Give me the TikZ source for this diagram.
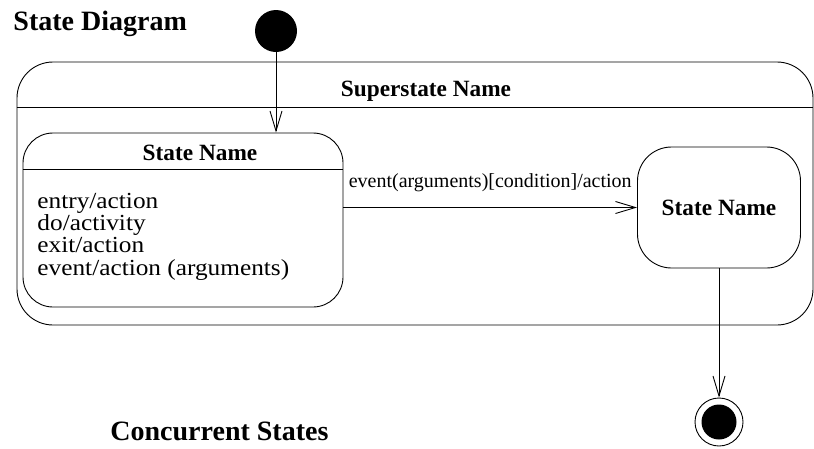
\documentclass[tikz,border=0pt]{standalone}
\usepackage{fontspec}
\setmainfont{Liberation Serif}
\newfontfamily\bodyfont[FakeStretch=1.1]{Liberation Serif}
\usetikzlibrary{arrows.meta}
\begin{document}
\begin{tikzpicture}[x={(1pt,0)}, y={(0,-1pt)},
  line width=0.9pt,
  flow/.style={-{Straight Barb[length=20pt,width=12pt,line width=0.9pt]}},
  statebox/.style={draw, rectangle, inner sep=0pt},
  heading/.style={font=\fontsize{28}{31}\selectfont\bfseries, inner sep=0pt},
  stname/.style={font=\fontsize{23.3}{26}\selectfont\bfseries, inner sep=0pt},
  body/.style={font=\bodyfont\fontsize{23}{22}\selectfont, inner sep=0pt, anchor=base west,
    text height=15pt, text depth=5pt},
  trlabel/.style={font=\fontsize{20}{22}\selectfont, inner sep=0pt},
]
\useasboundingbox (0,0) rectangle (814,448);
\clip (0,0) rectangle (814,448);

% titles
\node[heading, anchor=base west] (title) at (13,30) {State Diagram};
\node[heading, anchor=base west, text depth=0pt] (conc) at (110,440) {Concurrent States};

% superstate with its name compartment
\node[statebox, rounded corners=36pt, minimum width=796pt, minimum height=263pt]
  (super) at (415,193.5) {};
\draw ([yshift=-46pt]super.north west) -- ([yshift=-46pt]super.north east);
\node[stname, anchor=base] (supername) at (426,96) {Superstate Name};

% left state with internal activities
\node[statebox, rounded corners=30pt, minimum width=320pt, minimum height=174pt]
  (s1) at (183,220) {};
\draw ([yshift=-37pt]s1.north west) -- ([yshift=-37pt]s1.north east);
\node[stname, anchor=base] (s1name) at (200,160) {State Name};
\node[body] (entry) at (37,208) {entry/action};
\node[body] (do) at (37,230) {do/activity};
\node[body] (exit) at (37,252) {exit/action};
\node[body] (ev) at (37,275) {event/action (arguments)};

% right state
\node[statebox, rounded corners=34pt, minimum width=163pt, minimum height=121pt]
  (s2) at (719,207.5) {};
\node[stname, anchor=base] (s2name) at (719,215) {State Name};

% pseudo states
\node[circle, fill=black, minimum size=42pt, inner sep=0pt] (init) at (276,31) {};
\node[circle, draw, minimum size=48pt, inner sep=0pt] (fin) at (719,422) {};
\fill (fin.center) circle (17.5pt);

% transitions
\draw[flow] (init.south) -- (init.south |- s1.north);
\draw[flow] (s1.east |- s2.west) -- (s2.west)
  node[trlabel, pos=0.5, anchor=base, yshift=20pt] (lbl) {event(arguments)[condition]/action};
\draw[flow] (s2.south) -- (fin.north);
\end{tikzpicture}
\end{document}
